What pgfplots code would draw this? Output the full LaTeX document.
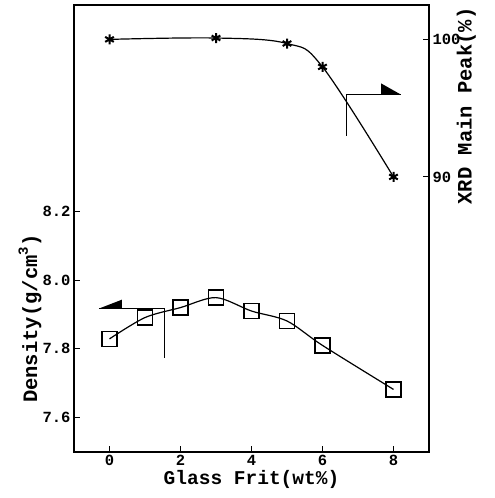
\documentclass[border=0pt]{standalone}
\usepackage{fontspec}
\setmainfont{Liberation Mono}
\usepackage{pgfplots}
\pgfplotsset{compat=1.18}
\usetikzlibrary{calc}
\begin{document}
\begin{tikzpicture}
\pgfplotsset{
  common/.style={
    scale only axis, width=355pt, height=447pt,
    xmin=-1, xmax=9,
    axis line style={line width=1.2pt},
    tick style={line width=1pt, black},
    major tick length=6pt,
    tick label style={font=\bfseries\fontsize{15.5}{15.5}\selectfont},
    label style={font=\bfseries\fontsize{20.5}{20.5}\selectfont},
  }
}
\begin{axis}[common,
  ymin=7.5, ymax=8.8,
  xtick={0,2,4,6,8}, xticklabels={0,2,4,6,8},
  ytick={7.6,7.8,8.0,8.2}, yticklabels={7.6,7.8,8.0,8.2},
  xtick pos=bottom, ytick pos=left,
  xlabel={Glass Frit(wt\%)},
  ylabel={Density(g/cm\raisebox{0.45em}{\fontsize{14}{14}\selectfont 3})},
  xlabel style={font=\bfseries\fontsize{19.5}{19.5}\selectfont, yshift=3pt},
  ylabel style={at={(axis description cs:-0.124,0.298)}, anchor=center},
]
\addplot[smooth, line width=1.2pt, black, mark=square, mark size=7.5pt,
  mark options={fill=white, line width=1.3pt}] coordinates {
  (0,7.829) (1,7.891) (2,7.920) (3,7.949) (4,7.910) (5,7.881) (6,7.810) (8,7.682)
};
\draw[line width=1pt] (axis cs:1.55,7.774) -- (axis cs:1.55,7.917) -- (axis cs:-0.3,7.917);
\fill (axis cs:-0.3,7.917) -- (axis cs:0.35,7.943) -- (axis cs:0.35,7.917) -- cycle;
\coordinate (SW) at (rel axis cs:0,0);
\coordinate (NE) at (rel axis cs:1,1);
\end{axis}
\begin{axis}[common,
  ymin=70, ymax=102.5,
  axis x line=none,
  axis y line*=right,
  ytick={90,100}, yticklabels={90,100},
  ylabel={XRD Main Peak(\%)},
  ylabel style={at={(axis description cs:1.105,0.774)}, anchor=center, rotate=0},
]
\addplot[smooth, tension=0.6, line width=1.2pt, black, mark=asterisk, mark size=5pt,
  mark options={line width=2pt}] coordinates {
  (0,100) (3,100.1) (5,99.7) (6,98.0) (8,90)
};
\draw[line width=1pt] (axis cs:6.69,93.0) -- (axis cs:6.69,96.0) -- (axis cs:8.2,96.0);
\fill (axis cs:8.2,96.0) -- (axis cs:7.65,96.8) -- (axis cs:7.65,96.0) -- cycle;
\end{axis}
\pgfresetboundingbox
\path[use as bounding box] ($(SW)+(-74pt,-46pt)$) rectangle ($(NE)+(66pt,5pt)$);
\end{tikzpicture}
\end{document}
